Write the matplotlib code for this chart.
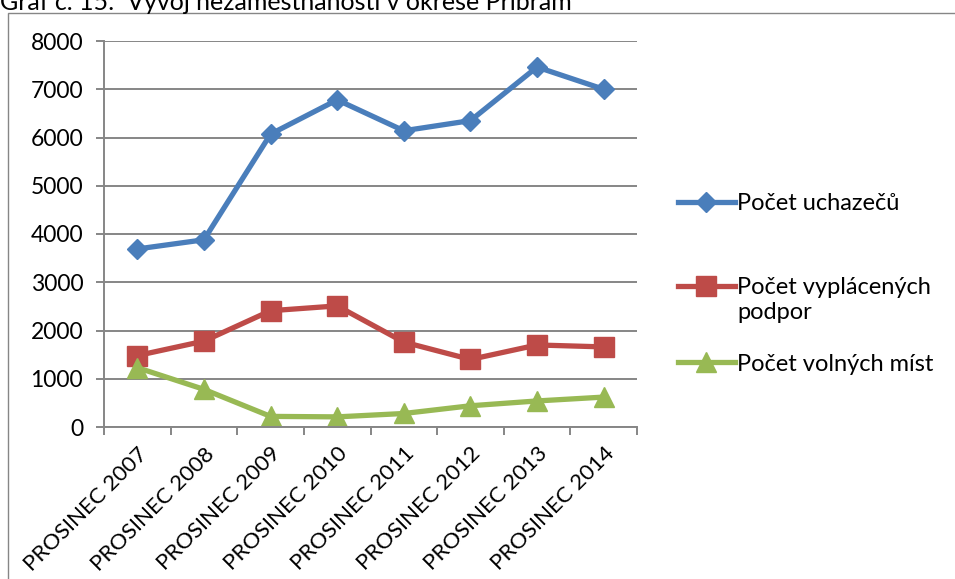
import matplotlib
matplotlib.use("Agg")
import matplotlib.pyplot as plt
from matplotlib.patches import Rectangle
from matplotlib.lines import Line2D
from matplotlib.ticker import FixedLocator, NullFormatter

plt.rcParams['font.family'] = ['Lato', 'DejaVu Sans']

categories = ["PROSINEC 2007", "PROSINEC 2008", "PROSINEC 2009", "PROSINEC 2010",
              "PROSINEC 2011", "PROSINEC 2012", "PROSINEC 2013", "PROSINEC 2014"]
uchazecu = [3690, 3880, 6070, 6780, 6140, 6350, 7460, 7000]
podpor = [1480, 1780, 2410, 2510, 1760, 1400, 1700, 1660]
mist = [1230, 780, 220, 210, 280, 440, 540, 620]
series_names = ["Počet uchazečů", "Počet vyplácených podpor", "Počet volných míst"]
yticks = [0, 1000, 2000, 3000, 4000, 5000, 6000, 7000, 8000]
title = "Graf č. 15:  Vývoj nezaměstnanosti v okrese Příbram"

W, H = 955, 579
fig = plt.figure(figsize=(W / 100, H / 100), dpi=100)

# outer chart border (extends beyond right/bottom edges)
fig.patches.append(Rectangle((8 / W, -0.1), 1.2, 1 - 13 / H + 0.1, transform=fig.transFigure,
                             fill=False, edgecolor='#868686', linewidth=1.0))
fig.text(0 / W, 1 - 10 / H, title, fontsize=18, va='baseline', ha='left', color='black')

ax = fig.add_axes([104 / W, 1 - 427 / H, (637 - 104) / W, (427 - 41) / H])
x = list(range(len(categories)))
grey = '#868686'
colors = ['#4A7EBB', '#BE4B48', '#98B954']
markers = [('D', 10.5), ('s', 14), ('^', 14)]
series = [uchazecu, podpor, mist]
lines = []
for vals, c, (m, ms), name in zip(series, colors, markers, series_names):
    ln, = ax.plot(x, vals, color=c, lw=3.8, marker=m, ms=ms, label=name,
                  solid_joinstyle='round')
    lines.append(ln)

ax.set_xlim(-0.5, len(categories) - 0.5)
ax.set_ylim(0, 8000)
ax.set_yticks(yticks)
ax.set_yticklabels([str(v) for v in yticks], fontsize=16.5)
ax.yaxis.grid(True, color=grey, lw=1.4)
ax.set_axisbelow(True)

ax.set_xticks(x)
ax.set_xticklabels(categories, rotation=45, ha='right', rotation_mode='anchor', fontsize=16)
ax.tick_params(axis='x', which='major', length=0, pad=12)
ax.xaxis.set_minor_locator(FixedLocator([i - 0.5 for i in range(len(categories) + 1)]))
ax.xaxis.set_minor_formatter(NullFormatter())
ax.tick_params(axis='x', which='minor', length=6, color=grey, width=1.4, direction='out')
ax.tick_params(axis='y', length=6, color=grey, width=1.4, direction='out', pad=9)

for s in ['top', 'right']:
    ax.spines[s].set_visible(False)
for s in ['left', 'bottom']:
    ax.spines[s].set_color(grey)
    ax.spines[s].set_linewidth(1.4)

# legend entries (Excel-style: marker aligned with first line of a wrapped label)
blank = Line2D([], [], alpha=0)
leg_kw = dict(frameon=False, fontsize=17, handlelength=2.4, handletextpad=0.1,
              borderpad=0, borderaxespad=0, loc='center left')
leg1 = ax.legend(handles=[lines[0]], labels=[series_names[0]],
                 bbox_to_anchor=(1.077, 0.578), **leg_kw)
ax.add_artist(leg1)
leg2 = ax.legend(handles=[lines[1], blank], labels=["Počet vyplácených", "podpor"],
                 bbox_to_anchor=(1.077, 0.329), labelspacing=0.15, **leg_kw)
ax.add_artist(leg2)
ax.legend(handles=[lines[2]], labels=[series_names[2]],
          bbox_to_anchor=(1.077, 0.163), **leg_kw)

fig.savefig("out.png", dpi=100)
